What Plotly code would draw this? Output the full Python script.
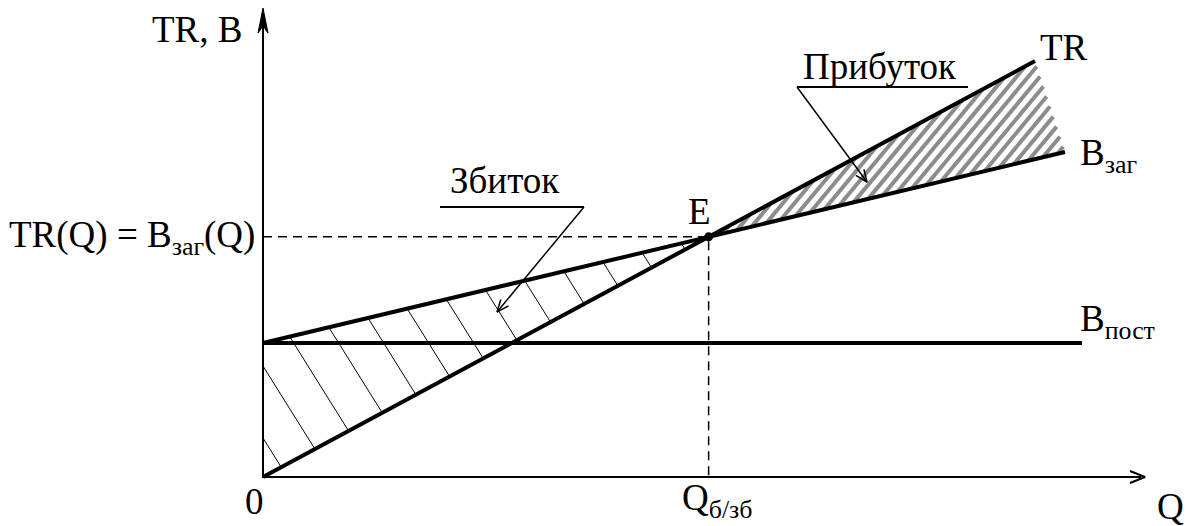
import numpy as np
import plotly.graph_objects as go

# умовні одиниці (1 од. = 1 px на малюнку)
q_tr = [0, 772]          # виторг TR
tr = [0, 416]
q_total = [0, 802]       # загальні витрати B_заг
b_total = [134, 325]
q_fixed = [0, 819]       # постійні витрати B_пост
b_fixed = [134, 134]
q_axis_max = 882
y_axis_max = 469

FONT = "Liberation Serif"

# точка беззбитковості E
k_tr = (tr[1] - tr[0]) / (q_tr[1] - q_tr[0])
k_tc = (b_total[1] - b_total[0]) / (q_total[1] - q_total[0])
q_e = (b_total[0] - tr[0]) / (k_tr - k_tc)
y_e = tr[0] + k_tr * q_e


def hatch(poly, slope, c0, dc):
    # лінії y = slope*x + c, обрізані опуклим многокутником
    pts = np.array(poly, dtype=float)
    cs = pts[:, 1] - slope * pts[:, 0]
    k0 = int(np.ceil((cs.min() - c0) / dc))
    k1 = int(np.floor((cs.max() - c0) / dc))
    xs, ys = [], []
    for k in range(k0, k1 + 1):
        c = c0 + k * dc
        hits = []
        for i in range(len(pts)):
            p1, p2 = pts[i], pts[(i + 1) % len(pts)]
            f1 = p1[1] - slope * p1[0] - c
            f2 = p2[1] - slope * p2[0] - c
            if f1 == f2 or f1 * f2 > 0:
                continue
            t = f1 / (f1 - f2)
            hits.append(p1 + t * (p2 - p1))
        if len(hits) >= 2:
            hits = sorted(hits, key=lambda p: p[0])
            xs += [hits[0][0], hits[-1][0], None]
            ys += [hits[0][1], hits[-1][1], None]
    return xs, ys


loss = [(0, tr[0]), (0, b_total[0]), (q_e, y_e)]
profit = [(q_e, y_e), (q_tr[1], tr[1]), (q_total[1], b_total[1])]

fig = go.Figure()

hx, hy = hatch(loss, -1.6, 39, 72)
fig.add_trace(go.Scatter(x=hx, y=hy, mode="lines",
                         line=dict(color="black", width=1)))
px_, py_ = hatch(profit, 1.2, 0, 14)
fig.add_trace(go.Scatter(x=px_, y=py_, mode="lines",
                         line=dict(color="#8c8c8c", width=4)))

# осі
fig.add_trace(go.Scatter(x=[0, 0, q_axis_max - 4], y=[y_axis_max - 10, 0, 0], mode="lines",
                         line=dict(color="black", width=2)))

for qx, yy in [(q_tr, tr), (q_total, b_total), (q_fixed, b_fixed)]:
    fig.add_trace(go.Scatter(x=qx, y=yy, mode="lines",
                             line=dict(color="black", width=4)))

# пунктир
fig.add_trace(go.Scatter(x=[0, q_e, q_e], y=[y_e, y_e, 0], mode="lines",
                         line=dict(color="black", width=1.5, dash="9px,6px")))

fig.add_trace(go.Scatter(x=[q_e], y=[y_e], mode="markers",
                         marker=dict(color="black", size=9)))


def leader(x0, y0, x1, y1, head=12, half=5):
    d = np.array([x1 - x0, y1 - y0], dtype=float)
    d /= np.hypot(*d)
    n = np.array([-d[1], d[0]])
    b = np.array([x1, y1]) - head * d
    a1, a2 = b + half * n, b - half * n
    return [x0, x1, None, a1[0], x1, a2[0]], [y0, y1, None, a1[1], y1, a2[1]]


# стрілки-виноски
for (ux0, ux1, uy, tx, ty) in [(177, 321, 270, 234, 165), (534, 705, 390, 604, 295)]:
    fig.add_trace(go.Scatter(x=[ux0, ux1], y=[uy, uy], mode="lines",
                             line=dict(color="black", width=2)))
    sx = ux1 if ux0 == 177 else ux0
    lx, ly = leader(sx, uy, tx, ty)
    fig.add_trace(go.Scatter(x=lx, y=ly, mode="lines",
                             line=dict(color="black", width=1.5)))

# стрілка осі Q (відкрита)
fig.add_trace(go.Scatter(x=[q_axis_max - 15, q_axis_max, q_axis_max - 15],
                         y=[6, 0, -6], mode="lines",
                         line=dict(color="black", width=2)))
# стрілка осі TR, B
fig.add_shape(type="path",
              path=f"M 0,{y_axis_max} L -5,{y_axis_max - 25} L 0,{y_axis_max - 18} L 5,{y_axis_max - 25} Z",
              fillcolor="black", line=dict(color="black", width=1))

labels = [
    ("TR, B", -66, 448, "center"),
    ("TR(Q) = B<sub>заг</sub>(Q)", -6, 240, "right"),
    ("E", 436, 266, "center"),
    ("TR", 801, 430, "center"),
    ("B<sub>заг</sub>", 815, 322, "left"),
    ("B<sub>пост</sub>", 815, 156, "left"),
    ("0", -9, -24, "center"),
    ("Q<sub>б/зб</sub>", 417, -23, "left"),
    ("Q", 907, -29, "center"),
    ("Збиток", 242, 297, "center"),
    ("Прибуток", 617, 411, "center"),
]
for text, x, y, anchor in labels:
    fig.add_annotation(x=x, y=y, text=text, showarrow=False, xanchor=anchor, yanchor="middle",
                       font=dict(family=FONT, size=37, color="black"))

fig.update_layout(
    width=1190, height=526, margin=dict(l=0, r=0, t=0, b=0),
    showlegend=False, plot_bgcolor="white", paper_bgcolor="white",
    xaxis=dict(range=[-263, 927], visible=False, fixedrange=True),
    yaxis=dict(range=[-49, 477], visible=False, fixedrange=True),
)

fig.write_html("out.html", config={"displayModeBar": False},
               post_script="document.body.style.margin='0';")
